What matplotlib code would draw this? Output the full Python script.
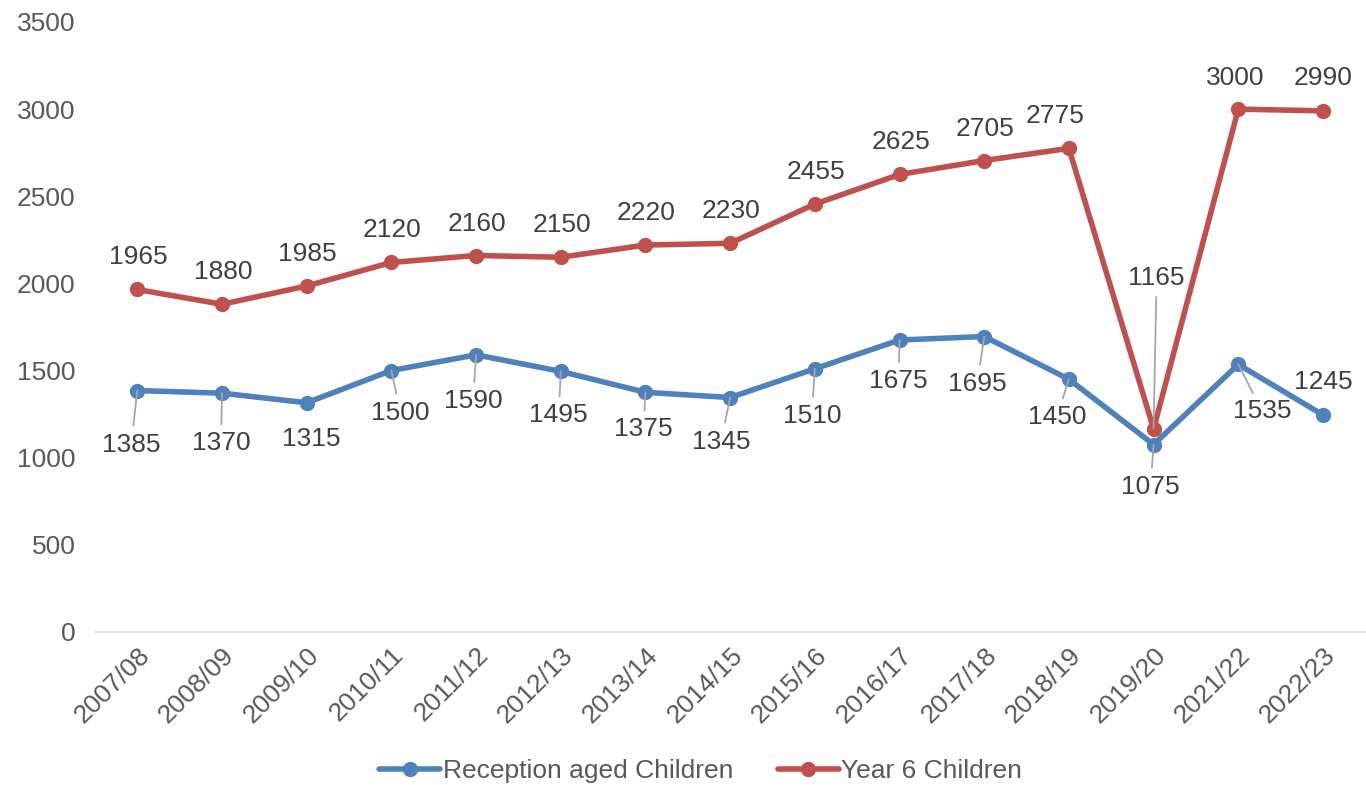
import matplotlib
matplotlib.use('agg')
import matplotlib.pyplot as plt

years = ['2007/08', '2008/09', '2009/10', '2010/11', '2011/12', '2012/13', '2013/14',
         '2014/15', '2015/16', '2016/17', '2017/18', '2018/19', '2019/20', '2021/22', '2022/23']
reception = [1385, 1370, 1315, 1500, 1590, 1495, 1375, 1345, 1510, 1675, 1695, 1450, 1075, 1535, 1245]
year6 = [1965, 1880, 1985, 2120, 2160, 2150, 2220, 2230, 2455, 2625, 2705, 2775, 1165, 3000, 2990]

# label offsets in pixels (dx, dy), and whether a leader line is drawn
reception_offsets = [(-6, -54), (-1, -50), (5, -36), (9, -42), (-3, -46), (-2, -44), (-2, -37),
                     (-9, -44), (-3, -47), (-1, -41), (-7, -47), (-12, -38), (-3, -42), (24, -47), (0, 33)]
reception_leader = [True, True, False, True, True, True, True, True, True, True, True, True, True, True, False]
year6_offsets = [(1, 32)] * 11 + [(-14, 32), (3, 151), (-3, 31), (0, 33)]
year6_leader = [False] * 12 + [True, False, False]

BLUE = '#4F81BD'
RED = '#C0504D'
LABEL = '#404040'
TICK = '#595959'
FS = 19

plt.rcParams['font.family'] = ['Liberation Sans', 'DejaVu Sans']


def add_labels(ax, xs, values, offsets, leaders):
	for x, v, (dx, dy), lead in zip(xs, values, offsets, leaders):
		props = None
		if lead:
			props = dict(arrowstyle='-', color='#A6A6A6', lw=1.3, shrinkA=3, shrinkB=0)
		ax.annotate(str(v), xy=(x, v), xytext=(dx, dy), textcoords='offset pixels',
		            ha='center', va='center', fontsize=FS, color=LABEL,
		            arrowprops=props, zorder=5)


def main():
	fig = plt.figure(figsize=(13.66, 7.85), dpi=100)
	ax = fig.add_axes([0.0695, 0.195, 0.93, 0.777])
	xs = list(range(len(years)))

	l1, = ax.plot(xs, reception, color=BLUE, lw=4, marker='o', ms=10,
	              label='Reception aged Children', zorder=3, solid_capstyle='round')
	l2, = ax.plot(xs, year6, color=RED, lw=4, marker='o', ms=10,
	              label='Year 6 Children', zorder=3, solid_capstyle='round')

	add_labels(ax, xs, reception, reception_offsets, reception_leader)
	add_labels(ax, xs, year6, year6_offsets, year6_leader)

	ax.set_xlim(-0.5, len(years) - 0.5)
	ax.set_ylim(0, 3500)
	ax.set_yticks(range(0, 3501, 500))
	ax.set_xticks(xs)
	ax.set_xticklabels(years, rotation=45, ha='right', rotation_mode='anchor')
	ax.tick_params(axis='both', length=0, labelsize=FS, colors=TICK)
	ax.tick_params(axis='y', pad=14)
	ax.tick_params(axis='x', pad=8)
	for s in ['top', 'right', 'left']:
		ax.spines[s].set_visible(False)
	ax.spines['bottom'].set_color('#D9D9D9')
	ax.spines['bottom'].set_linewidth(1.2)

	leg = fig.legend(handles=[l1, l2], loc='center', bbox_to_anchor=(0.513, 0.018), ncol=2,
	                 frameon=False, fontsize=FS, handlelength=2.3, columnspacing=1.7,
	                 handletextpad=0.1)
	for t in leg.get_texts():
		t.set_color(TICK)

	fig.savefig('out.png', dpi=100)


if __name__ == "__main__":
	main()
